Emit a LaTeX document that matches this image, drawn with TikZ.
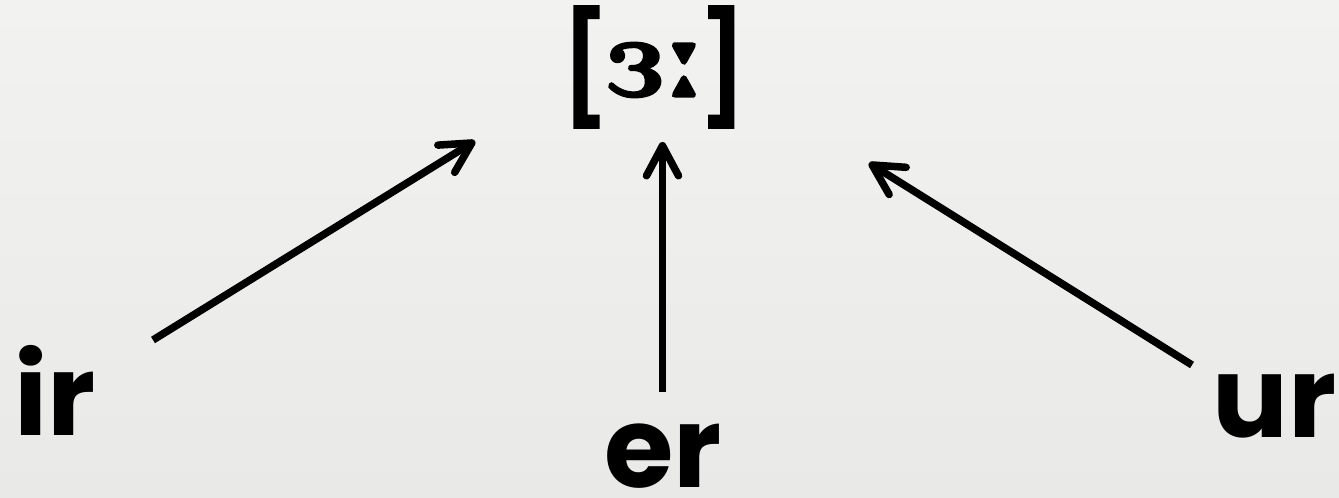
\documentclass[tikz,border=0pt]{standalone}
\usepackage{tipa}
\usepackage{fontspec}
\newfontfamily\comic{Poppins}
\usetikzlibrary{arrows.meta}
\definecolor{bgtop}{RGB}{242,242,240}
\definecolor{bgbot}{RGB}{233,233,232}
\newcommand\heavytext[2]{\special{pdf:literal direct 2 Tr #1 w}#2\special{pdf:literal direct 0 Tr}}
\tikzset{
  px/.style={x=0.01cm,y=-0.01cm},
  lbl/.style={inner sep=0pt,font=\comic\bfseries\fontsize{32}{40}\selectfont},
  conn/.style={line width=0.075cm,-{Straight Barb[length=0.3cm,width=0.32cm,round]}}
}
\begin{document}
\begin{tikzpicture}[px]
\shade[top color=bgtop,bottom color=bgbot] (0,0) rectangle (1339,498);
\useasboundingbox (0,0) rectangle (1339,498);
\node[anchor=base,inner sep=0pt] (ipa) at (654,96) {\fontsize{33}{40}\bfseries\heavytext{2.2}{[}\kern1.5pt\heavytext{0.5}{\scalebox{1.33}{\fontfamily{cmr}\fontseries{bx}\fontsize{24.88}{30}\selectfont\textipa{3:}}}\kern2pt\heavytext{2.2}{]}};
\node[lbl,anchor=base west] (ir) at (14,436) {ir};
\node[lbl,anchor=base] (er) at (663,488) {er};
\node[lbl,anchor=base east] (ur) at (1337,438) {ur};
\coordinate (ls) at (153,340);
\coordinate (le) at (475,141);
\coordinate (ms) at (662.5,392);
\coordinate (me) at (662.5,142);
\coordinate (rs) at (1192,365);
\coordinate (re) at (869,163);
\draw[conn] (ls) -- (le);
\draw[conn] (ms) -- (me);
\draw[conn] (rs) -- (re);
\end{tikzpicture}
\end{document}
